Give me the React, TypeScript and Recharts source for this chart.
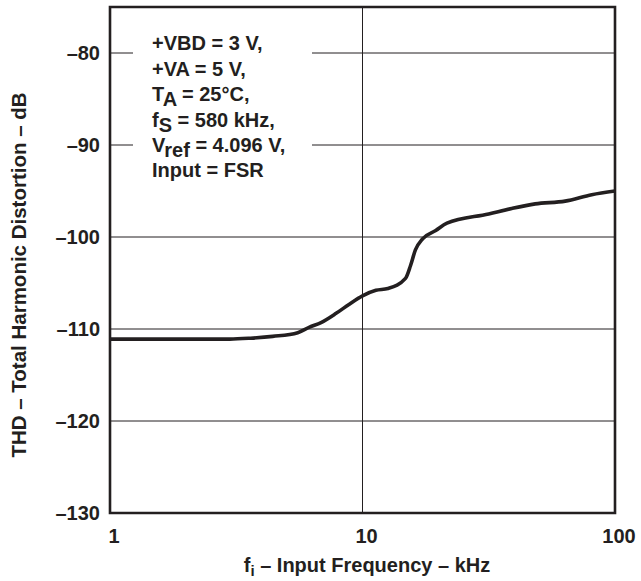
import React from 'react';
import { LineChart, Line, XAxis, YAxis, CartesianGrid, ReferenceArea, Customized } from 'recharts';

// input frequency (kHz) and THD (dB)
const freqKHz = [1, 2.98, 3.6, 4.41, 5.54, 6.17, 6.85, 7.86, 8.87, 10, 11.3, 12.6, 14.8, 15.5, 16.2, 17.3, 19.5, 21.6, 31.6, 39, 48.3, 63.5, 80.9, 100];
const thdDb = [-111.1, -111.1, -111.0, -110.8, -110.4, -109.8, -109.3, -108.3, -107.3, -106.4, -105.8, -105.6, -104.5, -103.1, -101.4, -100.2, -99.3, -98.5, -97.5, -96.9, -96.4, -96.1, -95.4, -95.0];

const xTicks = [1, 10, 100];
const yTicks = [-130, -120, -110, -100, -90, -80];

const data = freqKHz.map((f, i) => ({ f, thd: thdDb[i] }));

const INK = '#231f20';
const FONT = '"Liberation Sans", Arial, Helvetica, sans-serif';

const fmtY = (v: number) => (v < 0 ? '\u2013' + Math.abs(v) : String(v));

const XTick = (props: any) => {
  const { x, y, payload } = props;
  return (
    <text x={x + 4} y={y} dy="0.71em" textAnchor="middle" fill={INK} fontSize={20} fontWeight="bold" fontFamily={FONT}>
      {payload.value}
    </text>
  );
};

const Annotation = () => (
  <g fontFamily={FONT} fontWeight="bold" fill={INK} fontSize={20}>
    <rect x={133} y={30} width={179} height={156} fill="#fff" />
    <text x={152} y={50}>+VBD = 3 V,</text>
    <text x={152} y={76}>+VA = 5 V,</text>
    <text x={152} y={101}>
      T<tspan dy={5}>A</tspan>
      <tspan dy={-5}> = 25°C,</tspan>
    </text>
    <text x={152} y={127}>
      f<tspan dy={5}>S</tspan>
      <tspan dy={-5}> = 580 kHz,</tspan>
    </text>
    <text x={152} y={152}>
      V<tspan dy={5}>ref</tspan>
      <tspan dy={-5}> = 4.096 V,</tspan>
    </text>
    <text x={152} y={177}>Input = FSR</text>

    <text x={367} y={572} textAnchor="middle">
      f<tspan dy={4} fontSize={15}>i</tspan>
      <tspan dy={-4}> – Input Frequency – kHz</tspan>
    </text>
    <text transform="translate(26,275) rotate(-90)" textAnchor="middle" fontSize={20.5}>
      THD – Total Harmonic Distortion – dB
    </text>
  </g>
);

export default function App() {
  return (
    <div style={{ position: 'absolute', left: 0, top: 0, width: 641, height: 581, background: '#fff' }}>
      <LineChart width={641} height={581} data={data} margin={{ top: 7, right: 26, bottom: 0, left: 0 }}>
        <CartesianGrid stroke={INK} strokeWidth={1} />
        <XAxis
          dataKey="f"
          type="number"
          scale="log"
          domain={[1, 100]}
          ticks={xTicks}
          allowDataOverflow
          axisLine={false}
          tickLine={false}
          tickSize={0}
          tickMargin={16}
          height={68}
          tick={<XTick />}
          interval={0}
        />
        <YAxis
          type="number"
          domain={[-130, -75]}
          ticks={yTicks}
          allowDataOverflow
          axisLine={false}
          tickLine={false}
          tickSize={0}
          tickMargin={10}
          width={110}
          interval={0}
          tickFormatter={fmtY}
          tick={{ fill: INK, fontSize: 20, fontWeight: 'bold', fontFamily: FONT }}
        />
        <ReferenceArea x1={1} x2={100} y1={-130} y2={-75} fill="none" stroke={INK} strokeWidth={2.6} />
        <Line
          type="monotone"
          dataKey="thd"
          stroke={INK}
          strokeWidth={3.6}
          dot={false}
          isAnimationActive={false}
        />
        <Customized component={Annotation} />
      </LineChart>
    </div>
  );
}
